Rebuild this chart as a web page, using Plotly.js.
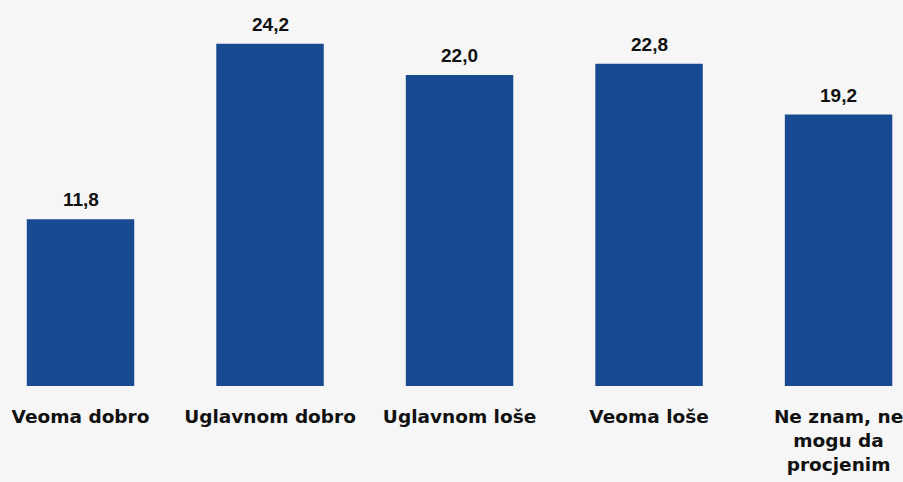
<!DOCTYPE html>
<html>
<head>
<meta charset="utf-8">
<script src="https://cdn.plot.ly/plotly-3.0.1.min.js"></script>
<style>html,body{margin:0;padding:0;background:#f6f6f6;}#chart{width:903px;height:482px;}</style>
</head>
<body>
<div id="chart"></div>
<script>
const categories = ["Veoma dobro", "Uglavnom dobro", "Uglavnom loše", "Veoma loše", "Ne znam, ne<br>mogu da<br>procjenim"];
const values = [11.8, 24.2, 22.0, 22.8, 19.2];

const annotations = categories.map((c, i) => ({
  x: c, y: values[i], xref: 'x', yref: 'y',
  text: values[i].toFixed(1).replace('.', ','),
  showarrow: false, yanchor: 'bottom', yshift: 7,
  font: {family: 'Liberation Sans, Arial, sans-serif', size: 19, color: '#111', weight: 'bold'}
}));

const trace = {
  type: 'bar', x: categories, y: values,
  width: 0.567,
  marker: {color: '#174a90'},
  hoverinfo: 'none'
};

const layout = {
  width: 903, height: 482,
  margin: {l: 0, r: 0, t: 0, b: 96},
  paper_bgcolor: '#f6f6f6', plot_bgcolor: '#f6f6f6',
  showlegend: false,
  xaxis: {
    type: 'category', range: [-0.4248, 4.340], automargin: false,
    showgrid: false, zeroline: false, showline: false,
    ticks: 'outside', ticklen: 14, tickcolor: 'rgba(0,0,0,0)',
    tickfont: {family: 'DejaVu Sans, sans-serif', size: 18.5, color: '#111', weight: 'bold'}
  },
  yaxis: {range: [0, 27.3], visible: false, showgrid: false, zeroline: false},
  annotations: annotations
};

Plotly.newPlot('chart', [trace], layout, {staticPlot: true, displayModeBar: false});
</script>
</body>
</html>
